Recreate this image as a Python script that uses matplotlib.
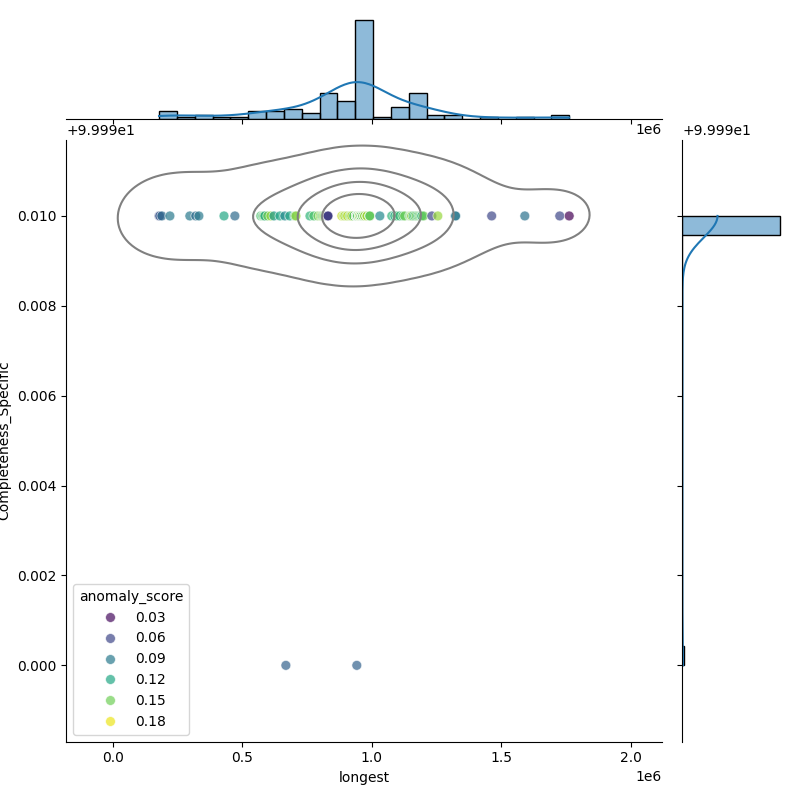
import matplotlib
matplotlib.use("Agg")
import matplotlib.pyplot as plt
import seaborn as sns
import pandas as pd

longest = [
    178000, 181000, 189000, 220000,
    297000,
    320000, 332000,
    429000,
    471000,
    571000, 579000, 583000, 587000,
    598000, 610000, 622000, 645000,
    664000, 683000, 703000, 707000,
    761000, 776000, 792000,
    801000, 806000, 810000, 814000, 818000, 822000, 825000, 827000, 829000, 830000, 830000, 830000, 831000,
    884000, 892000, 896000, 903000, 907000, 915000, 919000, 923000, 930000,
    940000, 940000, 940000, 940000, 940000, 940000, 940000, 940000, 940000, 940000,
    945000, 945000, 945000, 945000, 945000, 945000, 945000,
    952000, 952000, 952000, 952000, 952000, 952000, 952000,
    958000, 958000, 958000, 958000, 958000,
    965000, 965000, 965000, 965000, 965000, 965000, 965000,
    972000, 972000, 972000, 972000,
    981000, 981000, 981000, 981000,
    992000, 992000, 992000, 992000,
    1031000,
    1077000, 1089000, 1097000, 1108000, 1120000, 1127000,
    1146000, 1150000, 1154000, 1154000, 1160000, 1166000, 1172000, 1178000, 1183000, 1188000, 1193000, 1193000, 1200000,
    1232000, 1255000,
    1322000, 1324000,
    1463000,
    1591000,
    1726000, 1762500,
    668000, 942000,
]

completeness_specific = [
    100.0, 100.0, 100.0, 100.0,
    100.0,
    100.0, 100.0,
    100.0,
    100.0,
    100.0, 100.0, 100.0, 100.0,
    100.0, 100.0, 100.0, 100.0,
    100.0, 100.0, 100.0, 100.0,
    100.0, 100.0, 100.0,
    100.0, 100.0, 100.0, 100.0, 100.0, 100.0, 100.0, 100.0, 100.0, 100.0, 100.0, 100.0, 100.0,
    100.0, 100.0, 100.0, 100.0, 100.0, 100.0, 100.0, 100.0, 100.0,
    100.0, 100.0, 100.0, 100.0, 100.0, 100.0, 100.0, 100.0, 100.0, 100.0,
    100.0, 100.0, 100.0, 100.0, 100.0, 100.0, 100.0,
    100.0, 100.0, 100.0, 100.0, 100.0, 100.0, 100.0,
    100.0, 100.0, 100.0, 100.0, 100.0,
    100.0, 100.0, 100.0, 100.0, 100.0, 100.0, 100.0,
    100.0, 100.0, 100.0, 100.0,
    100.0, 100.0, 100.0, 100.0,
    100.0, 100.0, 100.0, 100.0,
    100.0,
    100.0, 100.0, 100.0, 100.0, 100.0, 100.0,
    100.0, 100.0, 100.0, 100.0, 100.0, 100.0, 100.0, 100.0, 100.0, 100.0, 100.0, 100.0, 100.0,
    100.0, 100.0,
    100.0, 100.0,
    100.0,
    100.0,
    100.0, 100.0,
    99.99, 99.99,
]

anomaly_score = [
    0.06, 0.07, 0.08, 0.09,
    0.09,
    0.08, 0.09,
    0.12,
    0.08,
    0.14, 0.13, 0.15, 0.12,
    0.15, 0.16, 0.11, 0.12,
    0.10, 0.12, 0.14, 0.16,
    0.13, 0.14, 0.15,
    0.16, 0.15, 0.14, 0.16, 0.15, 0.13, 0.14, 0.12, 0.15, 0.06, 0.055, 0.05, 0.055,
    0.17, 0.16, 0.165, 0.155, 0.17, 0.15, 0.16, 0.165, 0.14,
    0.13, 0.15, 0.16, 0.12, 0.185, 0.15, 0.16, 0.13, 0.15, 0.14,
    0.15, 0.16, 0.14, 0.13, 0.16, 0.15, 0.14,
    0.16, 0.15, 0.14, 0.17, 0.13, 0.15, 0.16,
    0.14, 0.15, 0.16, 0.13, 0.15,
    0.16, 0.14, 0.15, 0.17, 0.13, 0.14, 0.15,
    0.15, 0.16, 0.14, 0.16,
    0.15, 0.14, 0.17, 0.16,
    0.14, 0.16, 0.13, 0.15,
    0.10,
    0.13, 0.12, 0.14, 0.13, 0.14, 0.15,
    0.15, 0.14, 0.15, 0.16, 0.13, 0.14, 0.15, 0.13, 0.15, 0.14, 0.14, 0.13, 0.15,
    0.06, 0.16,
    0.085, 0.09,
    0.06,
    0.085,
    0.06, 0.025,
    0.075, 0.075,
]

assert len(longest) == len(completeness_specific) == len(anomaly_score)

df = pd.DataFrame({
    "longest": longest,
    "Completeness_Specific": completeness_specific,
    "anomaly_score": anomaly_score,
})

g = sns.JointGrid(data=df, x="longest", y="Completeness_Specific", height=8)
g.plot_joint(sns.scatterplot, hue=df["anomaly_score"], palette="viridis",
             alpha=0.7, s=50)
sns.kdeplot(data=df, x="longest", y="Completeness_Specific", ax=g.ax_joint,
            levels=5, color="gray")
g.plot_marginals(sns.histplot, kde=True, bins=23)

g.figure.set_size_inches(8, 8)
g.figure.savefig("out.png", dpi=100)
